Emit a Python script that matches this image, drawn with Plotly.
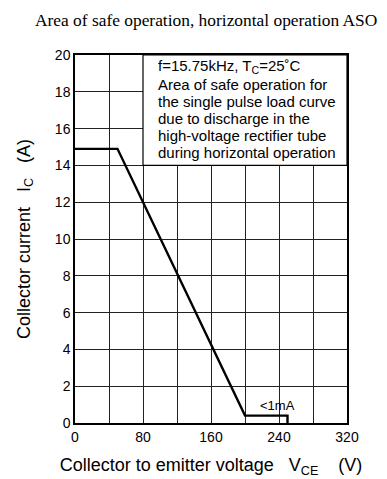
import plotly.graph_objects as go

# Data
vce = [0, 50, 200, 250, 250]
ic = [14.9, 14.9, 0.4, 0.4, 0]
x_ticks = [0, 80, 160, 240, 320]
y_ticks = [0, 2, 4, 6, 8, 10, 12, 14, 16, 18, 20]
note_lines = [
    "f=15.75kHz, T<sub>C</sub>=25˚C",
    "Area of safe operation for",
    "the single pulse load curve",
    "due to discharge in the",
    "high-voltage rectifier tube",
    "during horizontal operation",
]
note_y = [19.4, 18.37, 17.46, 16.56, 15.65, 14.7]
box_x = [80, 320]
box_y = [14, 20]

SANS = "Liberation Sans, Arial, Helvetica"
SP = "\u00a0"

fig = go.Figure()
fig.add_trace(go.Scatter(x=vce, y=ic, mode="lines",
                         line=dict(color="black", width=2.4), showlegend=False,
                         hoverinfo="skip"))

fig.add_shape(type="rect", x0=box_x[0], x1=box_x[1], y0=box_y[0], y1=box_y[1],
              xref="x", yref="y", fillcolor="white",
              line=dict(color="black", width=1.2), layer="above")

for line, yy in zip(note_lines, note_y):
    fig.add_annotation(x=95, y=yy, xref="x", yref="y",
                       text=line, showarrow=False,
                       xanchor="left", yanchor="middle", align="left",
                       font=dict(family=SANS, size=15, color="black"))

fig.add_annotation(x=238, y=0.45, xref="x", yref="y", text="<1mA",
                   showarrow=False, yanchor="bottom",
                   font=dict(family=SANS, size=13, color="black"))

fig.update_layout(
    width=387, height=479,
    margin=dict(l=67, r=48, t=47, b=64),
    paper_bgcolor="white", plot_bgcolor="white",
    title=dict(text="Area of safe operation, horizontal operation ASO",
               x=0.512, xanchor="center", y=0.975, yanchor="middle",
               xref="container", yref="container",
               font=dict(family="Liberation Serif, Times New Roman", size=17.4, color="black")),
    font=dict(family=SANS, size=14, color="black"),
)

fig.update_xaxes(range=[0, 320], tickvals=x_ticks, ticktext=[str(v) for v in x_ticks],
                 showgrid=True, gridcolor="#222", gridwidth=1,
                 minor=dict(dtick=40, showgrid=True, gridcolor="#222", gridwidth=1),
                 showline=True, linecolor="black", linewidth=1.5, mirror=True,
                 zeroline=False, ticks="", ticklen=0,
                 tickfont=dict(size=14),
                 title=dict(text="Collector to emitter voltage" + SP * 3 + "V<sub>CE</sub>" + SP * 4 + "(V)",
                            font=dict(size=18), standoff=15))
fig.update_yaxes(range=[0, 20], tickvals=y_ticks, ticktext=[str(v) for v in y_ticks],
                 showgrid=True, gridcolor="#222", gridwidth=1,
                 showline=True, linecolor="black", linewidth=1.5, mirror=True,
                 zeroline=False, ticks="",
                 tickfont=dict(size=14),
                 title=dict(text="Collector current" + SP * 3 + "I<sub>C</sub>" + SP * 3 + "(A)",
                            font=dict(size=18), standoff=20))

fig.write_html("out.html")
